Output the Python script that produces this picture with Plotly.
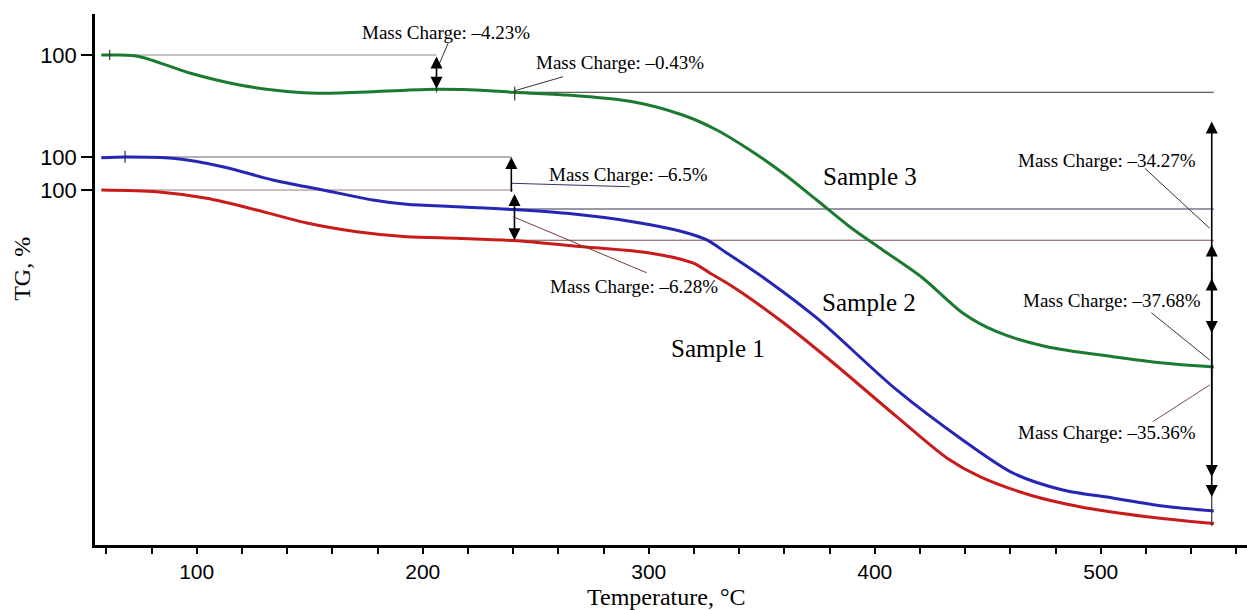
import plotly.graph_objects as go

# ---------------- data ----------------
s1_T = [57.8, 82.3, 104.4, 126.5, 148.7, 170.8, 192.9, 215.0, 239.8, 270.8, 300.4,
        319.5, 327.0, 337.2, 358.0, 380.1, 409.7, 431.9, 446.5, 468.6, 490.7, 520.4, 550.0]
s1_TG = [100.0, 99.79, 98.96, 97.5, 95.88, 94.79, 94.16, 93.96, 93.68, 92.91, 92.13,
         90.88, 89.63, 87.91, 83.75, 78.75, 71.66, 66.5, 64.16, 61.88, 60.41, 59.16, 58.3]

s2_T = [57.8, 68.9, 89.4, 111.5, 133.6, 155.8, 177.9, 192.9, 215.0, 239.8, 263.7, 292.9,
        315.0, 325.7, 334.5, 352.2, 374.3, 409.7, 438.9, 461.1, 483.2, 505.3, 527.4, 550.0]
s2_TG = [99.91, 100.0, 99.84, 98.79, 97.13, 95.88, 94.63, 94.09, 93.79, 93.45, 92.96, 91.91,
         90.66, 89.63, 88.0, 84.63, 79.88, 70.88, 64.63, 60.5, 58.38, 57.38, 56.38, 55.75]

s3_T = [57.8, 64.6, 74.8, 96.9, 119.0, 141.2, 153.0, 177.9, 206.1, 229.6, 239.8, 263.7,
        292.9, 315.0, 330.1, 344.7, 359.3, 374.3, 388.9, 403.5, 421.2, 438.9, 454.0,
        476.1, 505.3, 527.4, 550.0]
s3_TG = [100.0, 100.0, 99.79, 97.75, 96.25, 95.41, 95.21, 95.41, 95.71, 95.54, 95.34, 95.0,
         94.16, 92.5, 90.63, 88.13, 85.25, 81.88, 78.54, 75.63, 72.13, 67.75, 65.41,
         63.54, 62.29, 61.5, 61.0]

sample_names = ["Sample 1", "Sample 2", "Sample 3"]
offsets = [0.0, 4.125, 16.875]          # vertical shift of each curve (in %)
colors = ["#c81c1c", "#2626b4", "#1c7a30"]

# mass changes
first_step_T = [240.0, 239.2, 206.1]
first_change = [-6.28, -6.5, -4.23]
second_change = [-35.36, -37.68, -34.27]
green_extra_T = 240.7
green_extra_change = -0.43
T_end = 550.0

x_ticks = [100, 200, 300, 400, 500]

serif = "Liberation Serif, Times New Roman, serif"
sans = "Liberation Sans, Arial, sans-serif"

fig = go.Figure()

curves = [(s1_T, s1_TG), (s2_T, s2_TG), (s3_T, s3_TG)]
for (T, TG), off, col, name in zip(curves, offsets, colors, sample_names):
    fig.add_trace(go.Scatter(
        x=T, y=[v + off for v in TG], mode="lines", name=name,
        line=dict(color=col, width=3, shape="spline", smoothing=0.8),
        showlegend=False, hoverinfo="skip"))

shapes = []
annotations = []


def hline(x0, x1, y, color, width=1):
    shapes.append(dict(type="line", xref="x", yref="y", x0=x0, x1=x1, y0=y, y1=y,
                       line=dict(color=color, width=width), layer="below"))


def seg(x0, y0, x1, y1, color, width=1):
    shapes.append(dict(type="line", xref="x", yref="y", x0=x0, x1=x1, y0=y0, y1=y1,
                       line=dict(color=color, width=width)))


def arrow(x, y_from, y_to, both=True):
    annotations.append(dict(x=x, y=y_to, ax=x, ay=y_from, xref="x", yref="y",
                            axref="x", ayref="y", text="", showarrow=True,
                            arrowhead=2, arrowsize=1.5, arrowwidth=1.6,
                            arrowside="end+start" if both else "end",
                            startarrowhead=2, startarrowsize=1.5,
                            arrowcolor="black"))


def label(x, y, text, size=19):
    annotations.append(dict(x=x, y=y, xref="x", yref="y", text=text, showarrow=False,
                            font=dict(family=serif, size=size, color="black"),
                            xanchor="center", yanchor="middle"))


# reference levels
lvl1 = [100 + c for c in first_change]
green_lvl2 = lvl1[2] + green_extra_change
ref_cols_top = ["#9a7a7a", "#666677", "#8a8a8a"]
ref_cols_low = ["#7a4a4a", "#333355", "#333333"]

hline(57.8, first_step_T[0], 100 + offsets[0], ref_cols_top[0])
hline(first_step_T[0], T_end, lvl1[0] + offsets[0], ref_cols_low[0])
hline(57.8, first_step_T[1], 100 + offsets[1], ref_cols_top[1])
hline(first_step_T[1], T_end, lvl1[1] + offsets[1], ref_cols_low[1])
hline(57.8, first_step_T[2], 100 + offsets[2], ref_cols_top[2])
hline(green_extra_T, T_end, green_lvl2 + offsets[2], ref_cols_low[2])

# step arrows
arrow(first_step_T[2], 100 + offsets[2], lvl1[2] + offsets[2])
arrow(first_step_T[1], 100 + offsets[0] - 0.4, 100 + offsets[1], both=False)
arrow(first_step_T[0] + 0.6, 100 + offsets[0] - 0.3, lvl1[0] + offsets[0])

# small cross ticks
seg(61.5, 116.25, 61.5, 117.5, "#333333", 1.2)
seg(68.3, 103.4, 68.3, 104.9, "#222266", 1.2)
seg(first_step_T[2], 112.2, first_step_T[2], 113.0, "#333333", 1.2)
seg(green_extra_T, 111.2, green_extra_T, 112.9, "#333333", 1.2)

# right-hand arrows
xr = 549.1
seg(xr, 63.0, xr, 58.3 + offsets[0] - 0.3, "#333333", 1.2)
arrow(xr, 108.75, 82.125)
arrow(xr, 93.375, 64.125)
arrow(xr, 89.125, 61.625)

# leader lines
seg(211.2, 118.34, 206.8, 115.41, "#333333")
seg(262.1, 114.16, 240.7, 112.41, "#333333")
seg(239.2, 100.84, 291.6, 100.41, "#33336a")
seg(240.0, 96.66, 299.0, 89.66, "#7a3a3a")
seg(519.5, 102.71, 548.2, 95.21, "#333333")
seg(522.4, 84.66, 548.2, 78.75, "#33334a")
seg(523.0, 71.04, 548.2, 75.63, "#7a4a4a")

# texts
label(210.5, 119.63, "Mass Charge: \u20134.23%")
label(287.2, 116.0, "Mass Charge: \u20130.43%")
label(291.2, 101.88, "Mass Charge: \u20136.5%")
label(293.4, 87.88, "Mass Charge: \u20136.28%")
label(502.7, 103.75, "Mass Charge: \u201334.27%")
label(505.1, 86.25, "Mass Charge: \u201337.68%")
label(502.7, 69.75, "Mass Charge: \u201335.36%")
label(397.8, 101.75, "Sample 3", 25)
label(397.3, 85.88, "Sample 2", 25)
label(330.5, 80.25, "Sample 1", 25)

# axis titles
annotations.append(dict(x=0.4965, y=-0.098, xref="paper", yref="paper",
                        text="Temperature, \u00b0C", showarrow=False,
                        font=dict(family=serif, size=24, color="black"),
                        xanchor="center", yanchor="middle"))
annotations.append(dict(x=-0.0634, y=0.52, xref="paper", yref="paper",
                        text="TG, %", showarrow=False, textangle=-90,
                        font=dict(family=serif, size=24, color="black"),
                        xanchor="center", yanchor="middle"))

fig.update_layout(
    width=1247, height=610,
    margin=dict(l=95, r=0, t=14, b=65),
    paper_bgcolor="white", plot_bgcolor="white",
    shapes=shapes, annotations=annotations,
    xaxis=dict(range=[55, 564.7], tickvals=x_ticks, ticks="outside", ticklen=6,
               tickwidth=1.5, tickcolor="black", showline=True, linecolor="black",
               linewidth=2.5, showgrid=False, zeroline=False,
               tickfont=dict(family=sans, size=21, color="black"),
               minor=dict(dtick=20, tick0=0, ticks="outside", ticklen=6, tickwidth=1.5,
                          tickcolor="black", showgrid=False)),
    yaxis=dict(range=[55.625, 122.0], tickvals=[100 + o for o in offsets],
               ticktext=["100", "100", "100"], ticks="outside", ticklen=11,
               tickwidth=1.5, tickcolor="black", showline=True, linecolor="black",
               linewidth=2.5, showgrid=False, zeroline=False,
               tickfont=dict(family=sans, size=22, color="black")),
)

fig.write_html("out.html")
